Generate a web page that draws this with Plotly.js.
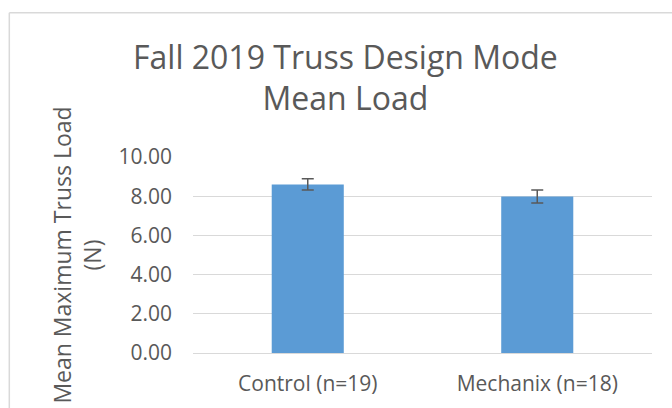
<!DOCTYPE html>
<html>
<head>
<meta charset="utf-8">
<script src="https://cdn.plot.ly/plotly-3.0.1.min.js"></script>
<style>html,body{margin:0;padding:0;background:#fff;}#chart{width:672px;height:408px;}</style>
</head>
<body>
<div id="chart"></div>
<script>
const categories = ['Control (n=19)', 'Mechanix (n=18)'];
const meanLoad = [8.60, 7.98];
const errorLoad = [0.29, 0.33];
const yTickVals = [0, 2, 4, 6, 8, 10];
const yTickText = ['0.00', '2.00', '4.00', '6.00', '8.00', '10.00'];

const font = 'Open Sans, sans-serif';
const grey = '#595959';

const trace = {
  type: 'bar',
  x: categories,
  y: meanLoad,
  marker: {color: '#5b9bd5'},
  error_y: {type: 'data', array: errorLoad, visible: true, color: grey, thickness: 1.5, width: 6},
  hoverinfo: 'none'
};

const layout = {
  width: 672, height: 408,
  margin: {l: 193, r: 20, t: 157, b: 55, pad: 0},
  paper_bgcolor: '#fff', plot_bgcolor: '#fff',
  showlegend: false,
  bargap: 0.686,
  font: {family: font, color: grey},
  title: {
    text: 'Fall 2019 Truss Design Mode<br>Mean Load',
    font: {family: font, size: 32, color: grey},
    x: 0.514, xanchor: 'center', xref: 'container',
    y: 0.832, yanchor: 'top', yref: 'container'
  },
  xaxis: {
    type: 'category',
    showgrid: false, zeroline: false, showline: false,
    ticks: '', tickfont: {family: font, size: 21, color: grey},
    ticklabelstandoff: 16
  },
  yaxis: {
    range: [0, 10], tickvals: yTickVals, ticktext: yTickText,
    showgrid: true, gridcolor: '#d9d9d9', gridwidth: 1,
    zeroline: true, zerolinecolor: '#d9d9d9', zerolinewidth: 1,
    showline: false, ticks: '',
    tickfont: {family: font, size: 21, color: grey},
    ticklabelstandoff: 20,
    title: {text: 'Mean Maximum Truss Load<br>(N)', font: {family: font, size: 23, color: grey}, standoff: 10}
  },
  shapes: [
    {type: 'line', xref: 'paper', yref: 'paper', x0: -0.4002, x1: 2, y0: 1.736, y1: 1.736,
     line: {color: '#d9d9d9', width: 1.5}},
    {type: 'line', xref: 'paper', yref: 'paper', x0: -0.4002, x1: -0.4002, y0: -1, y1: 1.736,
     line: {color: '#d9d9d9', width: 1.5}}
  ]
};

Plotly.newPlot('chart', [trace], layout, {staticPlot: true, displayModeBar: false});
</script>
</body>
</html>
